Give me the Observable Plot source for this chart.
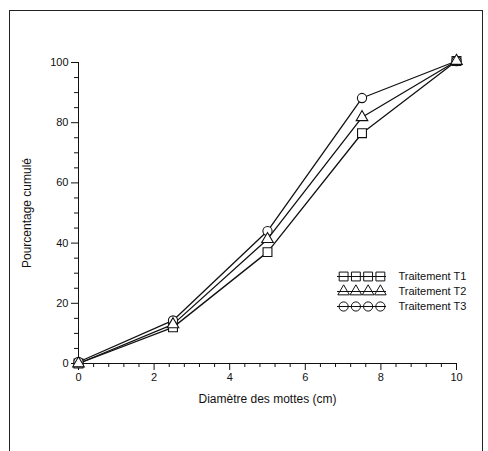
<!DOCTYPE html>
<html>
<head>
<meta charset="utf-8">
<script src="https://cdn.jsdelivr.net/npm/d3@7"></script>
<script src="https://cdn.jsdelivr.net/npm/@observablehq/plot@0.6"></script>
<style>
  html, body { margin: 0; padding: 0; background: #fff; }
  #wrap { position: relative; width: 488px; height: 451px; overflow: hidden; }
  #frame { position: absolute; left: 9px; top: 10px; width: 474px; height: 460px; border: 1.3px solid #222; box-sizing: border-box; }
  #chart, #legend { position: absolute; left: 0; top: 0; }
  #legend { left: 330px; top: 266px; }
</style>
</head>
<body>
<div id="wrap">
  <div id="frame"></div>
  <div id="chart"></div>
  <div id="legend"></div>
</div>
<script>
const diameters = [0, 2.5, 5, 7.5, 10];
const seriesNames = ["Traitement T1", "Traitement T2", "Traitement T3"];
const seriesSymbols = ["square", "triangle", "circle"];
const t1 = [0, 12, 37, 76.5, 100.5];
const t2 = [0, 13, 41.3, 81.8, 100.5];
const t3 = [0.5, 14.3, 44, 88.2, 100.5];
const xMajor = [0, 2, 4, 6, 8, 10];
const yMajor = [0, 20, 40, 60, 80, 100];

const values = [t1, t2, t3];
const markerR = {"square": 5, "triangle": 4.3, "circle": 4.6};
const data = [];
seriesNames.forEach((s, i) => diameters.forEach((d, j) => data.push({s, x: d, y: values[i][j], r: markerR[seriesSymbols[i]]})));

const xMinor = d3.range(0, 10.0001, 0.4).filter(v => !xMajor.some(m => Math.abs(m - v) < 1e-6));
const yMinor = d3.range(0, 100.0001, 5).filter(v => v % 20 !== 0);

const font = "'Liberation Sans', Arial, sans-serif";

const chart = Plot.plot({
  width: 488,
  height: 451,
  marginLeft: 78,
  marginRight: 32,
  marginTop: 62,
  marginBottom: 88,
  style: { fontFamily: font, fontSize: "11px", color: "#111", background: "transparent" },
  x: { domain: [0, 10] },
  y: { domain: [0, 100] },
  r: { type: "identity" },
  symbol: { domain: seriesNames, range: seriesSymbols },
  marks: [
    Plot.axisX({ticks: xMajor, tickSize: 7, tickPadding: 3, tickFormat: d3.format("d"), label: "Diamètre des mottes (cm)", labelAnchor: "center", labelArrow: "none", labelOffset: 39, fontSize: 11}),
    Plot.axisX({ticks: xMinor, tickSize: 4, tickFormat: null, label: null, text: null}),
    Plot.axisY({ticks: yMajor, tickSize: 7, tickPadding: 3, tickFormat: d3.format("d"), label: "Pourcentage cumulé", labelAnchor: "center", labelArrow: "none", labelOffset: 56, fontSize: 11}),
    Plot.axisY({ticks: yMinor, tickSize: 4, tickFormat: null, label: null, text: null}),
    Plot.ruleX([0], {stroke: "#111"}),
    Plot.ruleY([0], {stroke: "#111"}),
    Plot.line(data, {x: "x", y: "y", z: "s", stroke: "#111", strokeWidth: 1.3}),
    Plot.dot(data, {x: "x", y: "y", symbol: "s", r: "r", stroke: "#111", strokeWidth: 1.1, fill: "white"})
  ]
});
document.getElementById("chart").appendChild(chart);
chart.querySelectorAll("g[aria-label='x-axis label'] text, g[aria-label='y-axis label'] text").forEach(t => t.style.fontSize = "12px");

const legendData = [];
seriesNames.forEach((s, i) => [0, 1, 2, 3].forEach(k => legendData.push({s, k, r: markerR[seriesSymbols[i]]})));
const legend = Plot.plot({
  width: 150,
  height: 52,
  margin: 0,
  style: { fontFamily: font, fontSize: "11px", color: "#111", background: "transparent" },
  x: { domain: [-0.5, 3.5], range: [7, 56], axis: null },
  y: { type: "point", domain: seriesNames, range: [10, 40], padding: 0, axis: null },
  r: { type: "identity" },
  symbol: { domain: seriesNames, range: seriesSymbols },
  marks: [
    Plot.ruleY(seriesNames, {y: d => d, x1: -0.5, x2: 3.5, stroke: "#111", strokeWidth: 1.1}),
    Plot.dot(legendData, {x: "k", y: "s", symbol: "s", r: "r", stroke: "#111", strokeWidth: 1, fill: "none"}),
    Plot.text(seriesNames, {y: d => d, x: () => 3.5, dx: 12, text: d => d, textAnchor: "start", fill: "#111", fontSize: 11})
  ]
});
document.getElementById("legend").appendChild(legend);
</script>
</body>
</html>
